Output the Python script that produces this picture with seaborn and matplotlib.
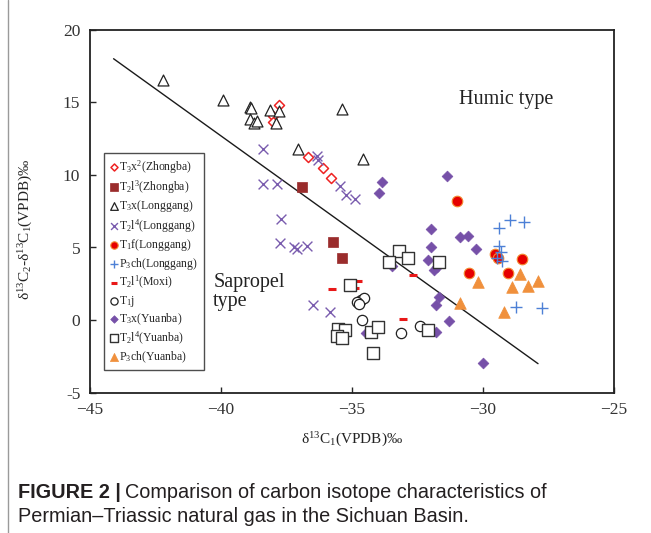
import numpy as np
import pandas as pd
import matplotlib
matplotlib.use("Agg")
import matplotlib.pyplot as plt
import seaborn as sns
from matplotlib.lines import Line2D

# data (x = d13C1, y = d13C2 - d13C1)
zhongba_t3x2_x = [-37.79, -38.00, -38.00, -36.69, -36.09, -35.80]
zhongba_t3x2_y = [14.84, 14.04, 13.65, 11.20, 10.48, 9.79]

zhongba_t2l3_x = [-36.90, -35.71, -35.39]
zhongba_t2l3_y = [9.18, 5.39, 4.31]

longgang_t3x_x = [-42.20, -39.91, -38.89, -38.85, -38.13, -37.79, -38.89,
                  -38.73, -38.61, -37.90, -35.39, -37.07, -34.59]
longgang_t3x_y = [16.57, 15.19, 14.68, 14.60, 14.50, 14.41, 13.88,
                  13.60, 13.70, 13.60, 14.56, 11.75, 11.10]

longgang_t2l4_x = [-38.41, -36.35, -36.28, -38.41, -37.87, -35.46, -35.24, -34.89,
                   -37.72, -37.75, -37.20, -37.11, -36.71, -36.50, -35.84]
longgang_t2l4_y = [11.75, 11.29, 11.06, 9.40, 9.40, 9.24, 8.65, 8.37,
                   6.97, 5.32, 5.00, 4.93, 5.09, 1.01, 0.55]

longgang_t1f_x = [-31.01, -30.53, -29.54, -29.42, -28.50, -29.03]
longgang_t1f_y = [8.19, 3.26, 4.54, 4.31, 4.22, 3.26]

longgang_p3ch_x = [-29.39, -28.97, -28.44, -29.39, -29.31, -29.29, -29.45, -28.74, -27.76]
longgang_p3ch_y = [6.35, 6.88, 6.79, 5.09, 4.70, 4.08, 4.31, 0.92, 0.80]

moxi_t2l1_x = [-34.78, -34.89, -35.75, -32.69, -33.06]
moxi_t2l1_y = [2.71, 2.18, 2.11, 3.14, 0.11]

t1j_x = [-34.66, -34.54, -34.82, -34.73, -34.63, -33.13, -32.40]
t1j_y = [1.38, 1.49, 1.26, 1.08, 0.00, -0.92, -0.41]

yuanba_t3x_x = [-33.87, -33.96, -31.39, -31.98, -30.88, -30.59, -30.28, -31.98, -32.09,
                -31.87, -31.77, -33.48, -31.68, -31.79, -31.28, -31.79, -34.48, -29.99]
yuanba_t3x_y = [9.50, 8.72, 9.91, 6.28, 5.69, 5.78, 4.89, 5.00, 4.13,
                3.44, 3.63, 3.76, 1.56, 1.01, -0.09, -0.80, -0.87, -2.98]

yuanba_t2l4_x = [-33.19, -32.88, -33.59, -31.68, -35.08, -35.55, -35.27,
                 -35.58, -35.37, -34.29, -33.99, -32.09, -34.19]
yuanba_t2l4_y = [4.75, 4.31, 4.01, 4.01, 2.41, -0.64, -0.69,
                 -1.08, -1.22, -0.80, -0.50, -0.69, -2.29]

yuanba_p3ch_x = [-30.18, -28.59, -27.89, -28.88, -28.30, -30.88, -29.18]
yuanba_p3ch_y = [2.59, 3.17, 2.71, 2.29, 2.36, 1.15, 0.57]

# dividing line between humic and sapropel gas
divide_x = [-44.1, -27.9]
divide_y = [18.0, -3.0]

x_ticks = [-45, -40, -35, -30, -25]
y_ticks = [20, 15, 10, 5, 0, -5]
y_tick_labels = ["20", "15", "10", "5", "0", "-5"]

sns.set_style("ticks")
plt.rcParams["font.family"] = ["Liberation Serif", "DejaVu Serif"]
plt.rcParams["mathtext.fontset"] = "custom"
plt.rcParams["mathtext.rm"] = "Liberation Serif"
plt.rcParams["mathtext.default"] = "regular"

series = [
    (r"T$_3$x$^2$(Zhongba)", zhongba_t3x2_x, zhongba_t3x2_y,
     dict(marker="D", s=26, facecolor="white", edgecolor="#ee2222", linewidth=1.1)),
    (r"T$_2$l$^3$(Zhongba)", zhongba_t2l3_x, zhongba_t2l3_y,
     dict(marker="s", s=62, color="#9a2c2c", edgecolor="#9a2c2c", linewidth=0.5)),
    (r"T$_3$x(Longgang)", longgang_t3x_x, longgang_t3x_y,
     dict(marker="^", s=62, facecolor="white", edgecolor="#222222", linewidth=0.9)),
    (r"T$_2$l$^4$(Longgang)", longgang_t2l4_x, longgang_t2l4_y,
     dict(marker="x", s=50, color="#7a5cae", linewidth=1.0)),
    (r"T$_1$f(Longgang)", longgang_t1f_x, longgang_t1f_y,
     dict(marker="o", s=58, color="#e60000", edgecolor="#f28a30", linewidth=0.8)),
    (r"P$_3$ch(Longgang)", longgang_p3ch_x, longgang_p3ch_y,
     dict(marker="+", s=70, color="#4d80d6", linewidth=1.0)),
    (r"T$_2$l$^1$(Moxi)", moxi_t2l1_x, moxi_t2l1_y,
     dict(marker="_", s=30, color="#e81818", linewidth=2.2)),
    (r"T$_1$j", t1j_x, t1j_y,
     dict(marker="o", s=55, facecolor="white", edgecolor="#222222", linewidth=0.9)),
    (r"T$_3$x(Yuanba)", yuanba_t3x_x, yuanba_t3x_y,
     dict(marker="D", s=30, color="#7650a8", edgecolor="#7650a8", linewidth=0.5)),
    (r"T$_2$l$^4$(Yuanba)", yuanba_t2l4_x, yuanba_t2l4_y,
     dict(marker="s", s=66, facecolor="white", edgecolor="#333333", linewidth=1.0)),
    (r"P$_3$ch(Yuanba)", yuanba_p3ch_x, yuanba_p3ch_y,
     dict(marker="^", s=70, color="#f0903c", edgecolor="#f0903c", linewidth=0.5)),
]

fig = plt.figure(figsize=(6.51, 5.33), dpi=100)
ax = fig.add_axes([90 / 651, 1 - 392.7 / 533, 524 / 651, 363 / 533])

ax.plot(divide_x, divide_y, color="#1a1a1a", linewidth=1.0, zorder=1)

for label, xs, ys, style in series:
    df = pd.DataFrame({"x": xs, "y": ys})
    sns.scatterplot(data=df, x="x", y="y", ax=ax, label=label, zorder=3, **style)

ax.set_xlim(-45, -25)
ax.set_ylim(-5, 20)
ax.set_xticks(x_ticks)
ax.set_yticks(y_ticks)
ax.set_yticklabels(y_tick_labels)
ax.tick_params(direction="in", length=4, width=1.0, labelsize=12.5,
               labelcolor="#333333", pad=7)
for sp in ax.spines.values():
    sp.set_linewidth(1.3)
    sp.set_color("#222222")

ax.set_xlabel(r"δ$^{13}$C$_1$(VPDB)‰", fontsize=11, color="#222222")
ax.set_ylabel(r"δ$^{13}$C$_2$-δ$^{13}$C$_1$(VPDB)‰", fontsize=11, color="#222222")
ax.xaxis.set_label_coords(0.5, -0.105)
ax.yaxis.set_label_coords(-0.105, 0.45)

ax.text(-30.9, 15.2, "Humic type", fontsize=14.5, ha="left", va="center", color="#222222")
ax.text(-40.3, 1.95, "Sapropel\ntype", fontsize=14.5, ha="left", va="center",
        color="#222222", linespacing=1.0)

leg = ax.legend(loc="lower left", bbox_to_anchor=(0.027, 0.0625), borderaxespad=0,
                fontsize=8.5, frameon=True, fancybox=False, edgecolor="#222222",
                handletextpad=0.05, handlelength=0.8, labelspacing=0.22,
                borderpad=0.45, markerscale=0.7)
leg.get_frame().set_linewidth(1.0)

# caption under the chart
fig.add_artist(Line2D([8 / 651, 8 / 651], [0, 1], color="#9a9a9a", linewidth=1.0))
fig.canvas.draw()
renderer = fig.canvas.get_renderer()
bold = fig.text(18 / 651, 1 - 492 / 533, "FIGURE 2 |", fontsize=14.3, fontweight="bold",
                family="Liberation Sans", va="center", color="#231f20")
bb = bold.get_window_extent(renderer=renderer)
fig.text(bb.x1 / fig.bbox.width + 4 / 651, 1 - 492 / 533,
         "Comparison of carbon isotope characteristics of", fontsize=14.3,
         family="Liberation Sans", va="center", color="#231f20")
fig.text(18 / 651, 1 - 517 / 533, "Permian\u2013Triassic natural gas in the Sichuan Basin.",
         fontsize=14.3, family="Liberation Sans", va="center", color="#231f20")

fig.savefig("out.png", dpi=100)
